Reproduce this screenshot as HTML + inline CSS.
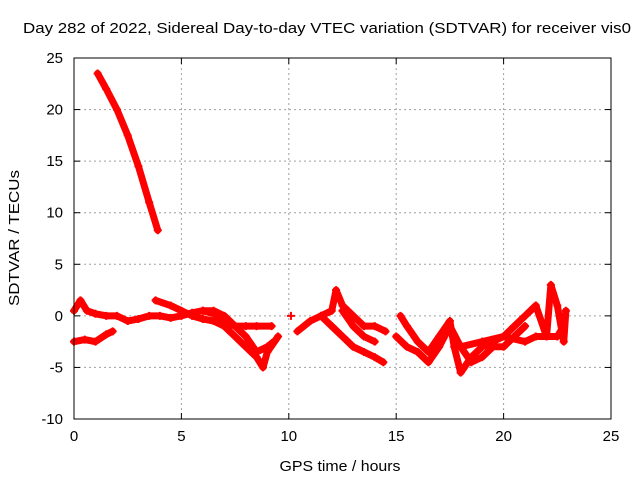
<!DOCTYPE html>
<html><head><meta charset="utf-8"><style>
body{margin:0;background:#fff;}
svg{display:block;font-family:"Liberation Sans",sans-serif;}
</style></head><body>
<svg id="chart" width="640" height="480">
<rect width="640" height="480" fill="#fff"/>
<text x="327" y="33" font-size="15" text-anchor="middle" textLength="608" lengthAdjust="spacingAndGlyphs">Day 282 of 2022, Sidereal Day-to-day VTEC variation (SDTVAR) for receiver vis0</text>
<g id="grid"></g><g id="series"></g><g id="axes"></g>
<text x="340" y="471" font-size="15" text-anchor="middle" textLength="121" lengthAdjust="spacingAndGlyphs">GPS time / hours</text>
<text transform="translate(19,238) rotate(-90)" font-size="15" text-anchor="middle" textLength="136" lengthAdjust="spacingAndGlyphs">SDTVAR / TECUs</text>
</svg>
<script>
const xTicks=[0,5,10,15,20,25];
const yTicks=[-10,-5,0,5,10,15,20,25];
const s1x=[1.1,1.5,2,2.5,3,3.5,3.9];
const s1y=[23.5,22,20,17.5,14.5,11,8.3];
const s2x=[0,0.3,0.6,1,1.5,2,2.5,3,3.5,4,4.5,5,5.5,6,6.5,7,7.5,8,8.5,9.2];
const s2y=[0.5,1.5,0.5,0.2,0,0,-0.5,-0.3,0,0,-0.2,0,0.3,0.5,0.5,0,-1,-1,-1,-1];
const s3x=[0,0.5,1,1.5,1.8];
const s3y=[-2.5,-2.3,-2.5,-1.8,-1.5];
const s4x=[3.8,4.5,5,5.5,6,6.5,7,7.5,8,8.5,8.8,9,9.5];
const s4y=[1.5,1,0.5,0,-0.3,-0.5,-1,-2,-3,-4,-5,-3.5,-2];
const s5x=[6,6.5,7,7.5,8,8.5,9,9.3];
const s5y=[0.5,0.2,-0.5,-1,-2,-3.5,-3,-2.5];
const s6x=[10.4,11,11.5,12,12.2,12.5,13,13.5,14,14.5];
const s6y=[-1.5,-0.5,0,0.5,2.5,1,0,-1,-1,-1.5];
const s7x=[11.5,12,12.5,13,13.5,14,14.4];
const s7y=[0,-1,-2,-3,-3.5,-4,-4.5];
const s8x=[12.5,13,13.5,14];
const s8y=[0.5,-1,-2,-2.5];
const s9x=[15,15.5,16,16.5,17,17.5,18,18.5,19,19.5,20,20.5,21];
const s9y=[-2,-3,-3.5,-4.5,-3,-1,-3,-4.5,-4,-3,-3,-2,-1];
const s10x=[15.2,15.5,16,16.5,17,17.5,17.7,18,18.5,19,19.5,20,20.5,21,21.5,22,22.2,22.5,22.8,22.9];
const s10y=[0,-1,-2.5,-3.5,-2,-0.5,-3,-5.5,-4,-3,-2.5,-2,-1,0,1,-2,3,1,-2.5,0.5];
const s11x=[18,19,20,21,21.5,22,22.5,22.8];
const s11y=[-3,-2.5,-2,-2.5,-2,-2,-2,-1];
const s12x=[10.1];
const s12y=[0];
const seriesX=[s1x,s2x,s3x,s4x,s5x,s6x,s7x,s8x,s9x,s10x,s11x,s12x];
const seriesY=[s1y,s2y,s3y,s4y,s5y,s6y,s7y,s8y,s9y,s10y,s11y,s12y];

const L=74,R=611,T=58,B=419;
const sx=v=>L+(v-0)/(25-0)*(R-L);
const sy=v=>B-(v+10)/(35)*(B-T);
const NS="http://www.w3.org/2000/svg";
const g=document.getElementById('grid'),ax=document.getElementById('axes'),se=document.getElementById('series');
function mk(t,a,p){const e=document.createElementNS(NS,t);for(const k in a)e.setAttribute(k,a[k]);p.appendChild(e);return e;}
xTicks.forEach(v=>{
  const gl=mk('line',{x1:sx(v),x2:sx(v),y1:T,y2:B,stroke:'#a0a0a0','stroke-dasharray':'2,3'},g);
  
  
  const t=mk('text',{x:sx(v),y:B+22,'font-size':15,'text-anchor':'middle'},ax);t.textContent=v;
  
  
  mk('line',{x1:sx(v),x2:sx(v),y1:B,y2:B-6,stroke:'#000'},ax);
  mk('line',{x1:sx(v),x2:sx(v),y1:T,y2:T+6,stroke:'#000'},ax);
});
yTicks.forEach(v=>{
  const gl=mk('line',{x1:L,x2:R,y1:sy(v),y2:sy(v),stroke:'#a0a0a0','stroke-dasharray':'2,3'},g);
  
  
  const t=mk('text',{x:L-11,y:sy(v)+5,'font-size':15,'text-anchor':'end'},ax);t.textContent=v;
  
  
  mk('line',{x1:L,x2:L+6,y1:sy(v),y2:sy(v),stroke:'#000'},ax);
  mk('line',{x1:R,x2:R-6,y1:sy(v),y2:sy(v),stroke:'#000'},ax);
});
const fr=mk('rect',{x:L,y:T,width:R-L,height:B-T,fill:'none',stroke:'#000'},ax);


seriesX.forEach((xs,i)=>{
  const ys=seriesY[i];
  const pts=xs.map((x,j)=>sx(x)+','+sy(ys[j])).join(' ');
  const pl=mk('polyline',{points:pts,fill:'none',stroke:'#f00','stroke-width':7,'stroke-linejoin':'round','stroke-linecap':'round'},se);
  
  
  xs.forEach((x,j)=>{
    const cx=sx(x),cy=sy(ys[j]);
    const p=mk('path',{d:`M${cx-4},${cy}H${cx+4}M${cx},${cy-4}V${cy+4}`,stroke:'#f00','stroke-width':2},se);
    
    
  });
});
</script>
</body></html>
